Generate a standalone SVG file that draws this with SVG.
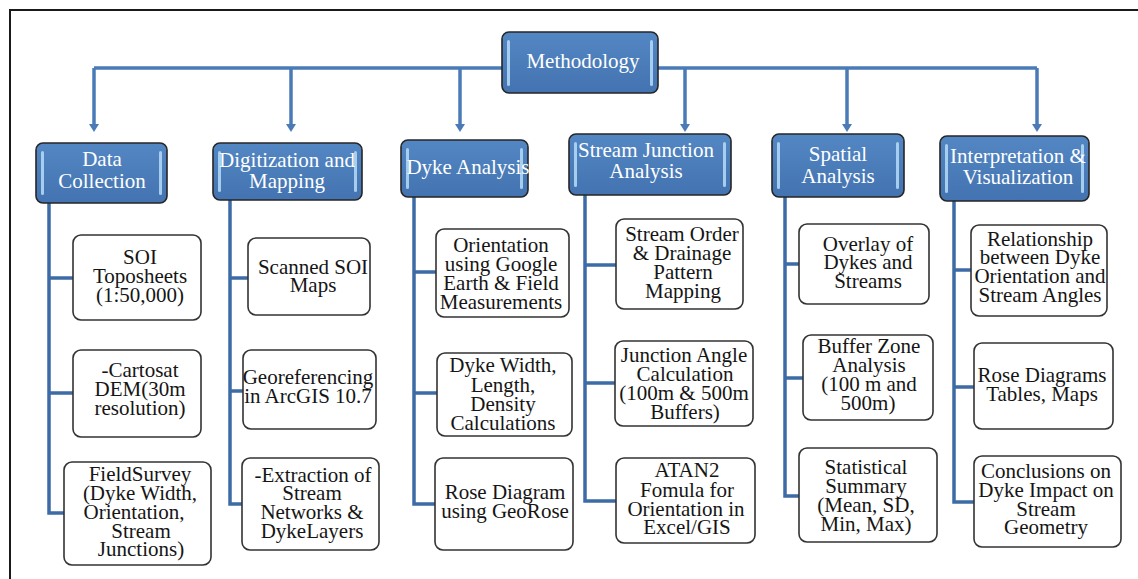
<svg xmlns="http://www.w3.org/2000/svg" width="1138" height="579" viewBox="0 0 1138 579">
<style>
.hdr{fill:url(#hg);stroke:#262626;stroke-width:1.6}
.hl{fill:#b6dcf7;opacity:0.85}
.box{fill:#fff;stroke:#333;stroke-width:1.6}
.ht{font-family:"Liberation Serif",serif;font-size:21px;fill:#fff;text-anchor:middle}
.bt{font-family:"Liberation Serif",serif;font-size:21px;fill:#151515;text-anchor:middle}
.top{fill:none;stroke:#4a7bb7;stroke-width:3.5}
.trunk{fill:none;stroke:#3d6ba6;stroke-width:3.5}
.frame{fill:none;stroke:#1a1a1a;stroke-width:2}
</style>
<defs>
<linearGradient id="hg" x1="0" y1="0" x2="0" y2="1">
<stop offset="0" stop-color="#5387c3"/>
<stop offset="1" stop-color="#4373b0"/>
</linearGradient>
<marker id="ah" markerUnits="userSpaceOnUse" markerWidth="8" markerHeight="10" viewBox="0 0 8 10" refX="2" refY="5" orient="auto">
<path d="M0,0 L8,5 L0,10 z" fill="#4a7bb7"/>
</marker>
</defs>
<rect width="1138" height="579" fill="#fff"/>
<path class="frame" d="M10,579 V10 H1138"/>

<g id="connectors">
<path class="top" d="M94,68 H1037"/>
<path class="top" d="M94,68 V126" marker-end="url(#ah)"/>
<path class="top" d="M291,68 V126" marker-end="url(#ah)"/>
<path class="top" d="M460,68 V126" marker-end="url(#ah)"/>
<path class="top" d="M685,68 V126" marker-end="url(#ah)"/>
<path class="top" d="M847,68 V126" marker-end="url(#ah)"/>
<path class="top" d="M1037,68 V126" marker-end="url(#ah)"/>
<path class="trunk" d="M49,203 V513 H64 M49,278 H73 M49,393 H73"/>
<path class="trunk" d="M230,200 V504 H242 M230,278 H248 M230,391 H243"/>
<path class="trunk" d="M414,197 V504 H435 M414,272 H436 M414,393 H437"/>
<path class="trunk" d="M585,195 V501 H616 M585,265 H616 M585,383 H615"/>
<path class="trunk" d="M785,197 V496 H799 M785,264 H799 M785,378 H803"/>
<path class="trunk" d="M954,201 V502 H974 M954,270 H971 M954,387 H974"/>
</g>

<g id="methodology">
<rect class="hdr" x="502" y="32" width="156" height="61" rx="7"/>
<rect class="hl" x="507" y="40" width="3" height="46" rx="1.5"/>
<rect class="hl" x="650" y="40" width="3" height="46" rx="1.5"/>
<text class="ht" x="583" y="68">Methodology</text>
</g>

<g id="data-collection">
<rect class="hdr" x="36" y="143" width="131" height="60" rx="7"/>
<rect class="hl" x="41" y="151" width="3" height="44" rx="1.5"/>
<rect class="hl" x="159" y="151" width="3" height="44" rx="1.5"/>
<text class="ht" x="102" y="166">Data</text>
<text class="ht" x="102" y="188">Collection</text>
</g>

<g id="digitization">
<rect class="hdr" x="213" y="143" width="149" height="57" rx="7"/>
<rect class="hl" x="218" y="151" width="3" height="41" rx="1.5"/>
<rect class="hl" x="354" y="151" width="3" height="41" rx="1.5"/>
<text class="ht" x="287" y="167">Digitization and</text>
<text class="ht" x="287" y="188">Mapping</text>
</g>

<g id="dyke-analysis">
<rect class="hdr" x="401" y="140" width="127" height="57" rx="7"/>
<rect class="hl" x="406" y="148" width="3" height="41" rx="1.5"/>
<rect class="hl" x="520" y="148" width="3" height="41" rx="1.5"/>
<text class="ht" x="468" y="174">Dyke Analysis</text>
</g>

<g id="stream-junction">
<rect class="hdr" x="569" y="134" width="162" height="61" rx="7"/>
<rect class="hl" x="574" y="142" width="3" height="45" rx="1.5"/>
<rect class="hl" x="723" y="142" width="3" height="45" rx="1.5"/>
<text class="ht" x="646" y="157">Stream Junction</text>
<text class="ht" x="646" y="178">Analysis</text>
</g>

<g id="spatial-analysis">
<rect class="hdr" x="772" y="134" width="132" height="63" rx="7"/>
<rect class="hl" x="777" y="142" width="3" height="47" rx="1.5"/>
<rect class="hl" x="896" y="142" width="3" height="47" rx="1.5"/>
<text class="ht" x="838" y="161">Spatial</text>
<text class="ht" x="838" y="183">Analysis</text>
</g>

<g id="interpretation">
<rect class="hdr" x="940" y="136" width="149" height="65" rx="7"/>
<rect class="hl" x="945" y="144" width="3" height="49" rx="1.5"/>
<rect class="hl" x="1081" y="144" width="3" height="49" rx="1.5"/>
<text class="ht" x="1018" y="163">Interpretation &amp;</text>
<text class="ht" x="1018" y="184">Visualization</text>
</g>

<g id="soi-toposheets">
<rect class="box" x="73" y="235" width="128" height="85" rx="8"/>
<text class="bt" x="140" y="264">SOI</text>
<text class="bt" x="140" y="283">Toposheets</text>
<text class="bt" x="140" y="302">(1:50,000)</text>
</g>
<g id="cartosat">
<rect class="box" x="73" y="350" width="128" height="87" rx="8"/>
<text class="bt" x="140" y="377">-Cartosat</text>
<text class="bt" x="140" y="396">DEM(30m</text>
<text class="bt" x="140" y="415">resolution)</text>
</g>
<g id="field-survey">
<rect class="box" x="64" y="462" width="147" height="103" rx="8"/>
<text class="bt" x="140" y="481">FieldSurvey</text>
<text class="bt" x="140" y="500">(Dyke Width,</text>
<text class="bt" x="134" y="519">Orientation,</text>
<text class="bt" x="141" y="538">Stream</text>
<text class="bt" x="141" y="556">Junctions)</text>
</g>

<g id="scanned-soi">
<rect class="box" x="248" y="238" width="122" height="77" rx="8"/>
<text class="bt" x="313" y="274">Scanned SOI</text>
<text class="bt" x="313" y="292">Maps</text>
</g>
<g id="georeferencing">
<rect class="box" x="243" y="350" width="133" height="79" rx="8"/>
<text class="bt" x="308" y="384">Georeferencing</text>
<text class="bt" x="308" y="403">in ArcGIS 10.7</text>
</g>
<g id="extraction">
<rect class="box" x="242" y="458" width="137" height="92" rx="8"/>
<text class="bt" x="313" y="482">-Extraction of</text>
<text class="bt" x="312" y="500">Stream</text>
<text class="bt" x="312" y="519">Networks &amp;</text>
<text class="bt" x="312" y="538">DykeLayers</text>
</g>

<g id="orientation-google">
<rect class="box" x="436" y="229" width="133" height="88" rx="8"/>
<text class="bt" x="501" y="252">Orientation</text>
<text class="bt" x="501" y="271">using Google</text>
<text class="bt" x="501" y="290">Earth &amp; Field</text>
<text class="bt" x="501" y="309">Measurements</text>
</g>
<g id="dyke-width">
<rect class="box" x="437" y="353" width="135" height="83" rx="8"/>
<text class="bt" x="503" y="372">Dyke Width,</text>
<text class="bt" x="503" y="392">Length,</text>
<text class="bt" x="503" y="411">Density</text>
<text class="bt" x="503" y="430">Calculations</text>
</g>
<g id="rose-georose">
<rect class="box" x="435" y="458" width="138" height="92" rx="8"/>
<text class="bt" x="505" y="499">Rose Diagram</text>
<text class="bt" x="505" y="518">using GeoRose</text>
</g>

<g id="stream-order">
<rect class="box" x="616" y="219" width="127" height="90" rx="8"/>
<text class="bt" x="682" y="241">Stream Order</text>
<text class="bt" x="682" y="260">&amp; Drainage</text>
<text class="bt" x="683" y="279">Pattern</text>
<text class="bt" x="683" y="298">Mapping</text>
</g>
<g id="junction-angle">
<rect class="box" x="615" y="341" width="138" height="85" rx="8"/>
<text class="bt" x="684" y="362">Junction Angle</text>
<text class="bt" x="685" y="381">Calculation</text>
<text class="bt" x="684" y="400">(100m &amp; 500m</text>
<text class="bt" x="685" y="419">Buffers)</text>
</g>
<g id="atan2">
<rect class="box" x="616" y="458" width="139" height="85" rx="8"/>
<text class="bt" x="687" y="477">ATAN2</text>
<text class="bt" x="687" y="497">Fomula for</text>
<text class="bt" x="686" y="516">Orientation in</text>
<text class="bt" x="687" y="534">Excel/GIS</text>
</g>

<g id="overlay">
<rect class="box" x="799" y="224" width="130" height="80" rx="8"/>
<text class="bt" x="868" y="251">Overlay of</text>
<text class="bt" x="868" y="269">Dykes and</text>
<text class="bt" x="868" y="288">Streams</text>
</g>
<g id="buffer-zone">
<rect class="box" x="803" y="335" width="130" height="85" rx="8"/>
<text class="bt" x="869" y="353">Buffer Zone</text>
<text class="bt" x="869" y="372">Analysis</text>
<text class="bt" x="869" y="391">(100 m and</text>
<text class="bt" x="868" y="410">500m)</text>
</g>
<g id="statistical">
<rect class="box" x="799" y="448" width="138" height="94" rx="8"/>
<text class="bt" x="866" y="474">Statistical</text>
<text class="bt" x="866" y="493">Summary</text>
<text class="bt" x="866" y="512">(Mean, SD,</text>
<text class="bt" x="866" y="531">Min, Max)</text>
</g>

<g id="relationship">
<rect class="box" x="971" y="225" width="136" height="91" rx="8"/>
<text class="bt" x="1040" y="246">Relationship</text>
<text class="bt" x="1040" y="264">between Dyke</text>
<text class="bt" x="1040" y="283">Orientation and</text>
<text class="bt" x="1040" y="302">Stream Angles</text>
</g>
<g id="rose-diagrams">
<rect class="box" x="974" y="343" width="139" height="86" rx="8"/>
<text class="bt" x="1042" y="382">Rose Diagrams</text>
<text class="bt" x="1042" y="401">Tables, Maps</text>
</g>
<g id="conclusions">
<rect class="box" x="974" y="456" width="147" height="91" rx="8"/>
<text class="bt" x="1046" y="478">Conclusions on</text>
<text class="bt" x="1046" y="497">Dyke Impact on</text>
<text class="bt" x="1046" y="516">Stream</text>
<text class="bt" x="1046" y="534">Geometry</text>
</g>
</svg>
